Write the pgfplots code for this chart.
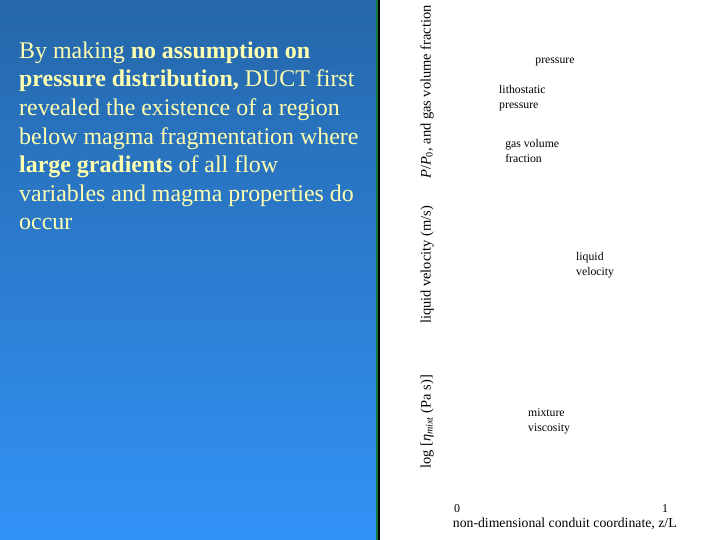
\documentclass[border=0pt]{standalone}
\usepackage{fontspec}
\setmainfont{Liberation Serif}
\newfontfamily\slidefont{Liberation Serif}
\usepackage{pgfplots}
\pgfplotsset{compat=1.18}
\definecolor{slidetop}{RGB}{37,103,170}
\definecolor{slidebot}{RGB}{50,146,246}
\definecolor{slidetext}{RGB}{255,255,175}
\definecolor{bargreen}{RGB}{20,120,60}
\begin{document}
\begin{tikzpicture}[x=1bp,y=1bp]
% slide background
\fill[white] (0,0) rectangle (720,540);
\shade[top color=slidetop,bottom color=slidebot] (0,0) rectangle (376,540);
\fill[bargreen] (376,0) rectangle (378,540);
\fill[black] (378,0) rectangle (379.5,540);
\node[anchor=north west,align=left,text=slidetext,
      font=\slidefont\fontsize{24}{28.7}\selectfont,inner sep=0pt] at (19,498.5)
  {By making \textbf{no assumption on}\\
   \textbf{pressure distribution,} DUCT first\\
   revealed the existence of a region\\
   below magma fragmentation where\\
   \textbf{large gradients} of all flow\\
   variables and magma properties do\\
   occur};
\begin{axis}[
    at={(457bp,40bp)}, anchor=origin,
    scale only axis, width=208bp, height=500bp,
    xmin=0, xmax=1, ymin=0, ymax=1,
    axis lines=none,
    clip=false,
    font=\slidefont\fontsize{11.8}{15}\selectfont,
]
% tick labels and axis title
\node[anchor=center,font=\slidefont\fontsize{12}{14}\selectfont] at (axis cs:0,-0.017) {0};
\node[anchor=center,font=\slidefont\fontsize{12}{14}\selectfont] at (axis cs:1,-0.017) {1};
\node[anchor=center,font=\slidefont\fontsize{13.8}{15}\selectfont] at (axis cs:0.518,-0.047) {non-dimensional conduit coordinate, z/L};
% vertical axis titles
\begin{scope}[every node/.style={rotate=90,font=\slidefont\fontsize{14.5}{16}\selectfont}]
\node at (axis cs:-0.144,0.816) {\textit{P}/\textit{P}\textsubscript{0}, and gas volume fraction};
\node at (axis cs:-0.144,0.47) {liquid velocity (m/s)};
\node at (axis cs:-0.144,0.156) {log [\textit{η\textsubscript{mixt}} (Pa s)]};
\end{scope}
% curve labels
\node at (axis cs:0.471,0.876) {pressure};
\node[anchor=west,align=left,inner sep=0pt] at (axis cs:0.202,0.804) {lithostatic\\pressure};
\node[anchor=west,align=left,inner sep=0pt] at (axis cs:0.231,0.698) {gas volume\\fraction};
\node[anchor=west,align=left,inner sep=0pt] at (axis cs:0.572,0.470) {liquid\\velocity};
\node[anchor=west,align=left,inner sep=0pt] at (axis cs:0.341,0.158) {mixture\\viscosity};
\end{axis}
\end{tikzpicture}
\end{document}
